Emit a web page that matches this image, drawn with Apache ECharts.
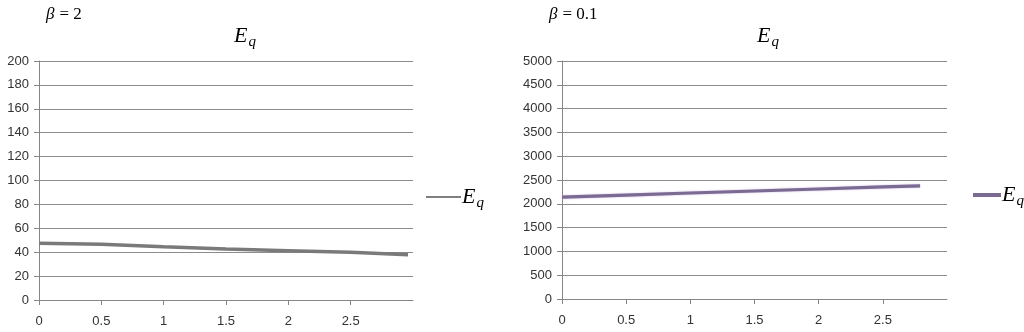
<!DOCTYPE html>
<html>
<head>
<meta charset="utf-8">
<script src="https://cdn.jsdelivr.net/npm/echarts@6/dist/echarts.min.js"></script>
<style>html,body{margin:0;padding:0;background:#fff;}#c{width:1024px;height:332px;}</style>
</head>
<body>
<div id="c"></div>
<script>
// Data
const xTickLabels = ['0', '0.5', '1', '1.5', '2', '2.5'];
const xLeft = [0, 0.5, 1, 1.5, 2, 2.5, 2.96];
const eqLeft = [47.4, 46.6, 44.6, 42.7, 41.3, 39.9, 37.9];
const xRight = [0, 0.5, 1, 1.5, 2, 2.5, 2.79];
const eqRight = [2142, 2184, 2227, 2269, 2311, 2354, 2378];
const betaLeft = '2';
const betaRight = '0.1';

const mathFont = 'Liberation Serif';
const tickFont = 'Liberation Sans';
const richMath = {
  e: { fontFamily: mathFont, fontStyle: 'italic', fontWeight: 'normal', fontSize: 22, color: '#000' },
  q: { fontFamily: mathFont, fontStyle: 'italic', fontWeight: 'normal', fontSize: 15, color: '#000', padding: [12, 0, 0, 1] },
  b: { fontFamily: mathFont, fontStyle: 'italic', fontWeight: 'normal', fontSize: 17, color: '#000' },
  t: { fontFamily: mathFont, fontWeight: 'normal', fontSize: 17, color: '#000' }
};

function xAxisCfg(gi) {
  return {
    type: 'value', gridIndex: gi, min: 0, max: 3, interval: 0.5,
    axisLine: { show: true, lineStyle: { color: '#868686', width: 1 } },
    axisTick: { show: true, length: 5, lineStyle: { color: '#868686' } },
    axisLabel: {
      showMaxLabel: false, margin: 15, color: '#333', fontFamily: tickFont, fontSize: 13,
      formatter: v => { const i = Math.round(v / 0.5); return xTickLabels[i] !== undefined ? xTickLabels[i] : ''; }
    },
    splitLine: { show: false }
  };
}
function yAxisCfg(gi, max, interval) {
  return {
    type: 'value', gridIndex: gi, min: 0, max: max, interval: interval,
    axisLine: { show: true, lineStyle: { color: '#868686', width: 1 } },
    axisTick: { show: true, length: 5, lineStyle: { color: '#868686' } },
    axisLabel: { margin: 10, color: '#333', fontFamily: tickFont, fontSize: 13, formatter: v => String(v) },
    splitLine: { show: true, lineStyle: { color: '#8c8c8c', width: 1 } }
  };
}

const chart = echarts.init(document.getElementById('c'), null, { renderer: 'canvas' });
chart.setOption({
  animation: false,
  backgroundColor: '#fff',
  title: [
    { text: '{b|β} {t|= ' + betaLeft + '}', left: 41, top: 1, textStyle: { fontWeight: 'normal', rich: richMath } },
    { text: '{e|E}{q|q}', left: 229, top: 18, textStyle: { fontWeight: 'normal', rich: richMath } },
    { text: '{b|β} {t|= ' + betaRight + '}', left: 544, top: 1, textStyle: { fontWeight: 'normal', rich: richMath } },
    { text: '{e|E}{q|q}', left: 752, top: 18, textStyle: { fontWeight: 'normal', rich: richMath } }
  ],
  legend: [
    { data: ['EqL'], left: 421, top: 181, icon: 'rect', itemWidth: 35, itemHeight: 2, itemGap: 0,
      formatter: () => '{e|E}{q|q}', textStyle: { rich: richMath, padding: [0, 0, 0, -4] } },
    { data: ['EqR'], left: 968, top: 179, icon: 'rect', itemWidth: 28, itemHeight: 4, itemGap: 0,
      formatter: () => '{e|E}{q|q}', textStyle: { rich: richMath, padding: [0, 0, 0, -4] } }
  ],
  grid: [
    { left: 39, top: 61, width: 374, height: 239 },
    { left: 562, top: 61, width: 385, height: 238 }
  ],
  xAxis: [xAxisCfg(0), xAxisCfg(1)],
  yAxis: [yAxisCfg(0, 200, 20), yAxisCfg(1, 5000, 500)],
  series: [
    { name: 'EqL', type: 'line', xAxisIndex: 0, yAxisIndex: 0, symbol: 'none',
      data: xLeft.map((x, i) => [x, eqLeft[i]]),
      itemStyle: { color: '#7f7f7f' },
      lineStyle: { color: '#7a7a7a', width: 3.5 } },
    { name: 'EqR', type: 'line', xAxisIndex: 1, yAxisIndex: 1, symbol: 'none',
      data: xRight.map((x, i) => [x, eqRight[i]]),
      itemStyle: { color: '#7b6a92' },
      lineStyle: { color: '#7b6a92', width: 3.2, shadowColor: 'rgba(200,180,225,0.9)', shadowBlur: 2 } }
  ]
});
</script>
</body>
</html>
